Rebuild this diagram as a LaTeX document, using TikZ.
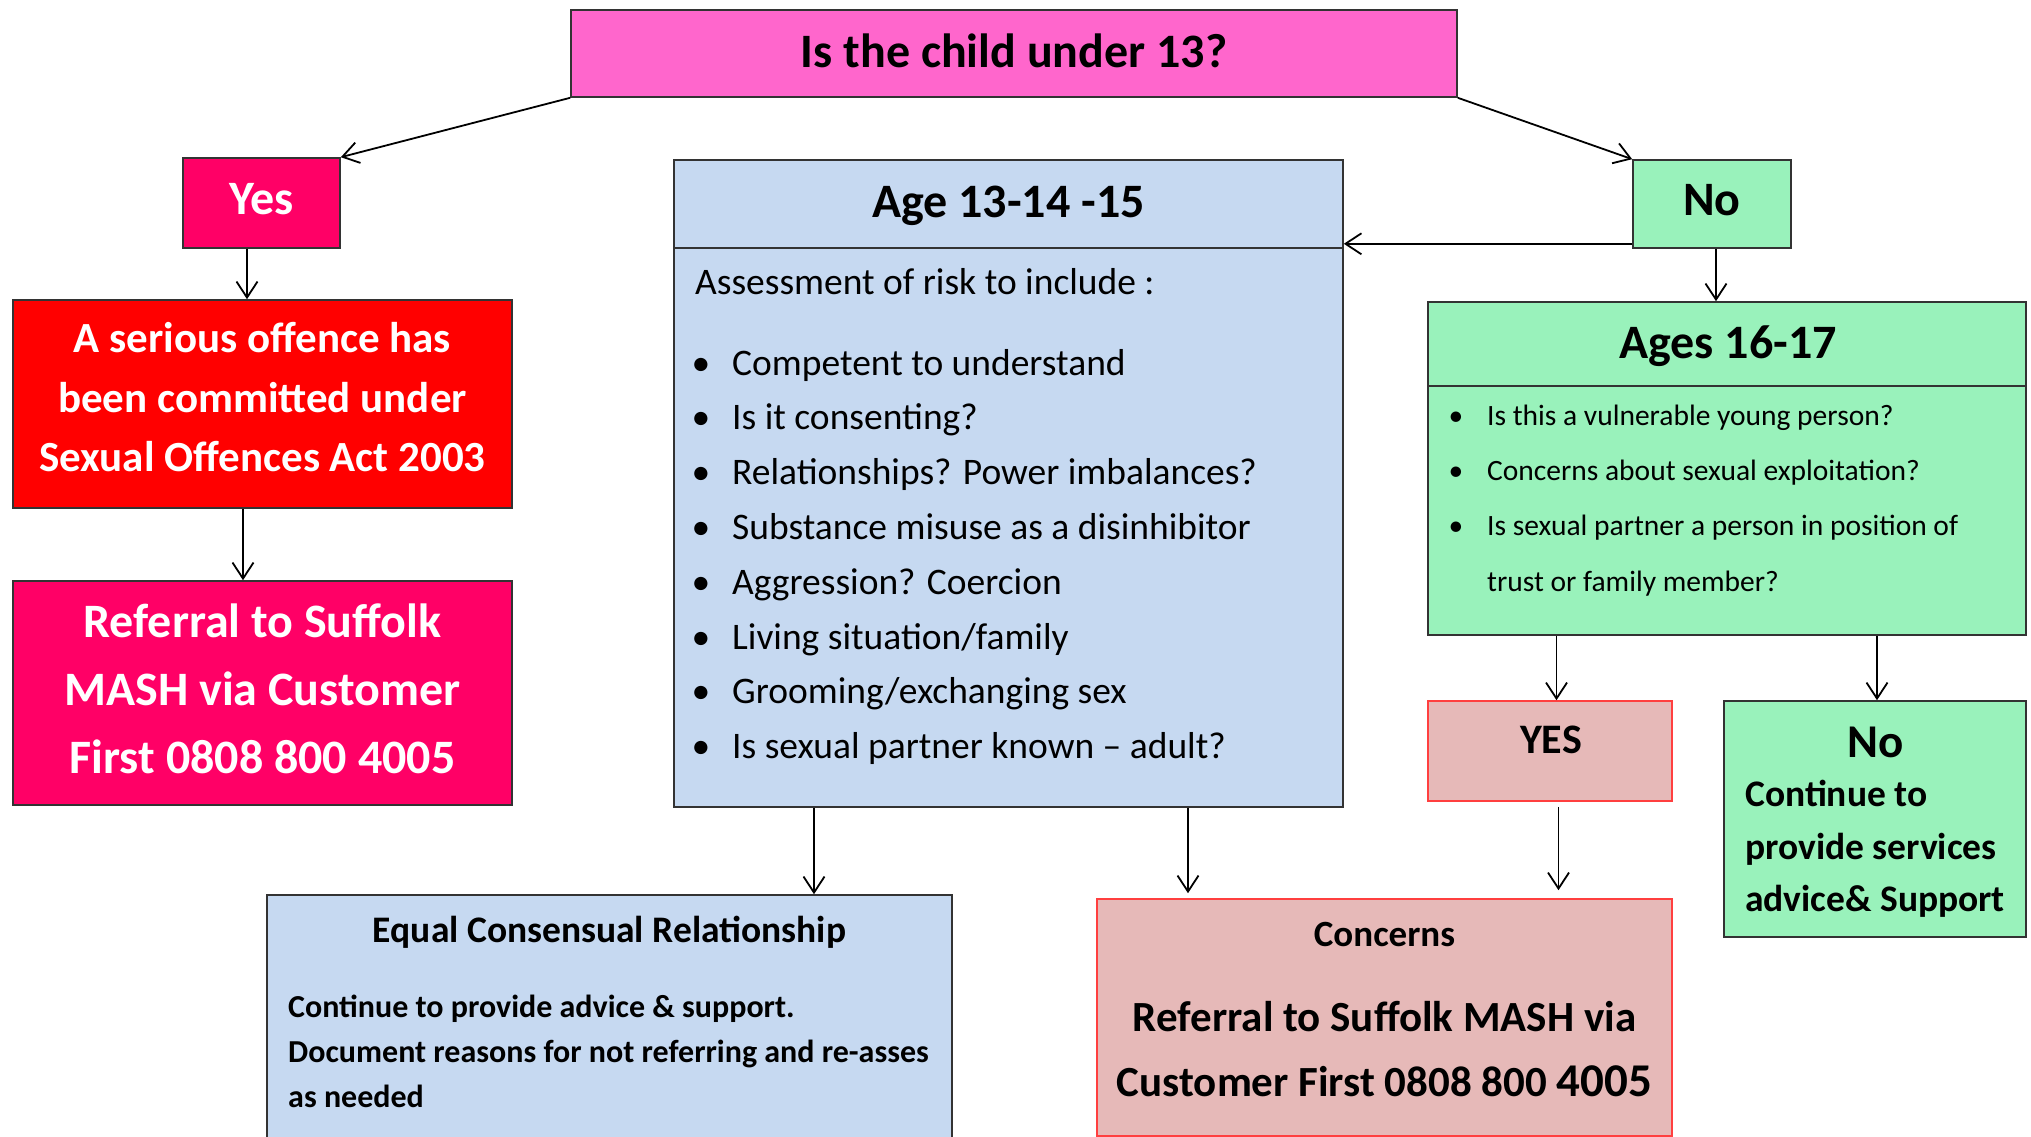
\documentclass[tikz,border=0pt]{standalone}
\usepackage{fontspec}
\setmainfont{Carlito}
\usepackage{tikz}
\usetikzlibrary{arrows.meta}
\definecolor{qpink}{HTML}{FF66CC}
\definecolor{hotpink}{HTML}{FF0066}
\definecolor{alarm}{HTML}{FF0000}
\definecolor{paleblue}{HTML}{C6D9F1}
\definecolor{mint}{HTML}{99F2BB}
\definecolor{rose}{HTML}{E6B9B8}
\definecolor{roseline}{HTML}{FF3F3F}
\definecolor{edgegray}{HTML}{333333}
\newcommand{\fsz}[2]{\fontsize{#1}{#2}\selectfont}
\newcommand{\dotitem}[1]{\llap{\textbullet\hspace{#1}}}

\begin{document}
\begin{tikzpicture}[x=1pt,y=-1pt,
  box/.style={draw=edgegray,line width=1.6pt,inner sep=0pt},
  rosebox/.style={box,draw=roseline,fill=rose},
  arr/.style={line width=1.8pt,-{Straight Barb[length=16pt,width=21pt]}},
  txt/.style={anchor=base,inner sep=0pt,font=\fsz{48}{58}\bfseries},
  body/.style={anchor=base west,inner sep=0pt,font=\fsz{37.5}{45}},
  small/.style={anchor=base west,inner sep=0pt,font=\fsz{29.5}{36}}
]
\useasboundingbox (0,0) rectangle (2031,1137);

\node[box,fill=qpink,minimum width=886pt,minimum height=87pt] (top) at (1014,53.5) {};
\node[txt] (toptext) at (1014,68) {Is the child under 13?};

\node[box,fill=hotpink,minimum width=157pt,minimum height=90pt] (yes) at (261.5,203) {};
\node[txt,text=white] (yestext) at (261.5,214.5) {Yes};

\node[box,fill=alarm,minimum width=499pt,minimum height=208pt] (offence) at (262.5,404) {};
\foreach \l [count=\i from 0] in {A serious offence has,been committed under,Sexual Offences Act 2003}
  \node[txt,text=white,font=\fsz{43}{51}\bfseries] (offence\i) at (262.5,{352.5+59.5*\i}) {\l};

\node[box,fill=hotpink,minimum width=499pt,minimum height=224pt] (referral) at (262.5,693) {};
\foreach \l [count=\i from 0] in {Referral to Suffolk,MASH via Customer,First 0808 800 4005}
  \node[txt,text=white] (referral\i) at (262.5,{637+68*\i}) {\l};

\node[box,fill=paleblue,minimum width=669pt,minimum height=647pt] (age) at (1008.5,483.5) {};
\draw[edgegray,line width=1.6pt] (674,248) -- (1343,248);
\node[txt] (agehead) at (1008.5,217) {Age 13-14 -15};
\node[body] (assess) at (695,294) {Assessment of risk to include :};
\foreach \l [count=\i from 0] in {Competent to understand,Is it consenting?,Relationships? Power imbalances?,Substance misuse as a disinhibitor,Aggression? Coercion,Living situation/family,Grooming/exchanging sex,Is sexual partner known – adult?}
  \node[body] (risk\i) at (732,{375+54.8*\i}) {\dotitem{22pt}\l};

\node[box,fill=mint,minimum width=158pt,minimum height=88pt] (no) at (1712,204) {};
\node[txt] (notext) at (1712,215) {No};

\node[box,fill=mint,minimum width=598pt,minimum height=333pt] (older) at (1727,468.5) {};
\draw[edgegray,line width=1.6pt] (1428,386) -- (2026,386);
\node[txt] (olderhead) at (1728,358) {Ages 16-17};
\foreach \l [count=\i from 0] in {Is this a vulnerable young person?,Concerns about sexual exploitation?,Is sexual partner a person in position of}
  \node[small] (check\i) at (1487,{425+55.3*\i}) {\dotitem{24pt}\l};
\node[small] (check3) at (1487,591) {trust or family member?};

\node[rosebox,minimum width=244pt,minimum height=100pt] (yesb) at (1550,751) {};
\node[txt,font=\fsz{42}{50}\bfseries] (yesbtext) at (1551,753) {YES};

\node[box,fill=mint,minimum width=302pt,minimum height=236pt] (nob) at (1875,819) {};
\node[txt,font=\fsz{47}{56}\bfseries] (nobtext) at (1876,757) {No};
\foreach \l [count=\i from 0] in {Continue to,provide services,advice\& Support}
  \node[body,font=\fsz{37.5}{45}\bfseries] (support\i) at (1745,{806.5+52.5*\i}) {\l};

\node[rosebox,minimum width=575pt,minimum height=237pt] (concerns) at (1384.5,1017.5) {};
\node[txt,font=\fsz{37}{45}\bfseries] (concernshead) at (1384.5,946) {Concerns};
\node[txt,font=\fsz{43}{51}\bfseries] (concerns1) at (1384.5,1031.5) {Referral to Suffolk MASH via};
\node[txt,font=\fsz{43}{51}\bfseries] (concerns2) at (1384.5,1096.5) {Customer First 0808 800 {\fsz{47}{56}4005}};

\node[box,fill=paleblue,minimum width=685pt,minimum height=255pt] (equal) at (609.5,1022.5) {};
\node[txt,font=\fsz{37.5}{45}\bfseries] (equalhead) at (609.5,942) {Equal Consensual Relationship};
\foreach \l [count=\i from 0] in {Continue to provide advice \& support.,Document reasons for not referring and re-asses,as needed}
  \node[body,font=\fsz{32}{40}\bfseries] (advice\i) at (288,{1017+45*\i}) {\l};

\draw[arr] (top.south west) -- (yes.north east);
\draw[arr] (top.south east) -- (no.north west);
\draw[arr] ([xshift=-14.5pt]yes.south) -- ([xshift=-14.5pt]yes.south |- offence.north);
\draw[arr] ([xshift=-19.5pt]offence.south) -- ([xshift=-19.5pt]offence.south |- referral.north);
\draw[arr] ([yshift=5pt]no.south west) -- ([yshift=5pt]no.south west -| age.east);
\draw[arr] ([xshift=4pt]no.south) -- ([xshift=4pt]no.south |- older.north);
\draw[arr] ([xshift=6.5pt]yesb.north |- older.south) -- ([xshift=6.5pt]yesb.north);
\draw[arr] ([xshift=2pt]nob.north |- older.south) -- ([xshift=2pt]nob.north);
\draw[arr] ([xshift=8.5pt,yshift=-5pt]yesb.south) -- ([xshift=8.5pt,yshift=8pt]yesb.south |- concerns.north);
\draw[arr] ([xshift=179.5pt]age.south) -- ([xshift=179.5pt,yshift=5pt]age.south |- concerns.north);
\draw[arr] ([xshift=-194.5pt]age.south) -- ([xshift=-194.5pt]age.south |- equal.north);
\end{tikzpicture}
\end{document}
